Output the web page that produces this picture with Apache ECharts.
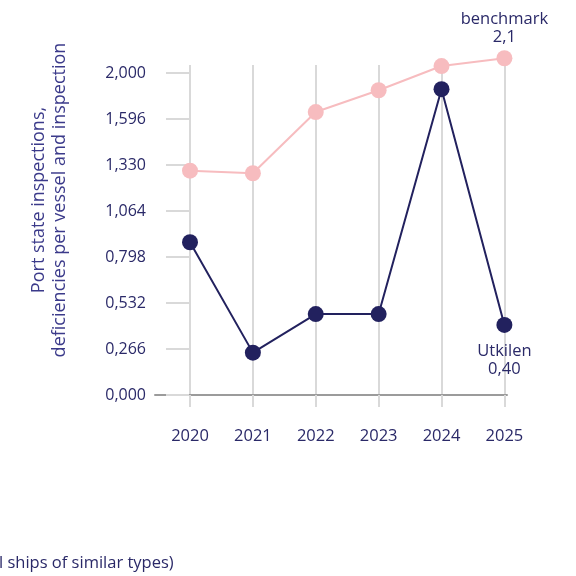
<!DOCTYPE html>
<html><head><meta charset="utf-8">
<script src="https://cdn.jsdelivr.net/npm/echarts@6/dist/echarts.min.js"></script>
<style>html,body{margin:0;padding:0;background:#fff}#c{width:576px;height:576px}</style>
</head><body><div id="c"></div>
<script>
const years = ['2020', '2021', '2022', '2023', '2024', '2025'];
const utkilen = [0.883, 0.245, 0.468, 0.468, 1.768, 0.405];
const benchmark = [1.297, 1.282, 1.636, 1.762, 1.902, 1.947];
const yTickValues = [0, 0.266, 0.532, 0.798, 1.064, 1.330, 1.596, 1.862];
const yTickLabels = ['0,000', '0,266', '0,532', '0,798', '1,064', '1,330', '1,596', '2,000'];
const seriesNames = ['Utkilen', 'benchmark'];
const endValueLabels = ['0,40', '2,1'];
const yAxisTitle = 'Port state inspections,\ndeficiencies per vessel and inspection';
const footnote = 'l ships of similar types)';

const FONT = "'Open Sans', 'Noto Sans', sans-serif";
const NAVY = '#2a2968';
const DARK = '#22215e';
const PINK = '#f7bcbf';
const GRIDC = '#d9d9d9';

function buildData(values, idx, pos, dist) {
  const last = values.length - 1;
  return values.map((v, i) => i === last ? {
    value: v,
    label: {
      show: true, position: pos, distance: dist,
      formatter: seriesNames[idx] + '\n' + endValueLabels[idx],
      color: NAVY, fontSize: 16.5, lineHeight: 18, fontFamily: FONT, align: 'center'
    }
  } : v);
}

const chart = echarts.init(document.getElementById('c'), null, {renderer: 'canvas'});
chart.setOption({
  animation: false,
  backgroundColor: '#ffffff',
  textStyle: {fontFamily: FONT},
  grid: [
    {left: 190, right: 71.6, top: 65, bottom: 181, containLabel: false},
    {left: 155, right: 69, top: 65, bottom: 181, containLabel: false}
  ],
  xAxis: [{
    gridIndex: 0, type: 'category', data: years, boundaryGap: false,
    axisLine: {show: false},
    axisTick: {show: true, length: 12, lineStyle: {color: GRIDC, width: 2}},
    splitLine: {show: true, lineStyle: {color: GRIDC, width: 2}},
    axisLabel: {margin: 33, color: NAVY, fontSize: 16.5, fontFamily: FONT}
  }, {
    gridIndex: 1, type: 'value', min: 0, max: 1,
    axisLine: {show: true, lineStyle: {color: '#9b9b9b', width: 2}},
    axisTick: {show: false}, axisLabel: {show: false}, splitLine: {show: false}
  }],
  yAxis: [{
    gridIndex: 0, type: 'value', min: 0, max: 1.908, offset: 24,
    axisLine: {show: false},
    axisTick: {show: true, inside: true, length: 23, customValues: yTickValues,
      lineStyle: {color: GRIDC, width: 2}},
    axisLabel: {
      customValues: yTickValues, margin: 20, color: NAVY, fontSize: 16, fontFamily: FONT,
      formatter: (v) => {
        const i = yTickValues.findIndex(t => Math.abs(t - v) < 1e-6);
        return i >= 0 ? yTickLabels[i] : '';
      }
    },
    splitLine: {show: false},
    name: yAxisTitle, nameLocation: 'middle', nameGap: 96,
    nameTextStyle: {color: '#3b3a8a', fontSize: 18, lineHeight: 21, fontFamily: FONT,
      padding: [0, 0, 0, 60]}
  }, {
    gridIndex: 1, type: 'value', show: false, min: 0, max: 1
  }],
  series: [{
    name: seriesNames[1], type: 'line', xAxisIndex: 0, yAxisIndex: 0,
    data: buildData(benchmark, 1, 'top', 4), clip: false,
    symbol: 'circle', symbolSize: 16,
    lineStyle: {color: PINK, width: 2}, itemStyle: {color: PINK}, z: 3
  }, {
    name: seriesNames[0], type: 'line', xAxisIndex: 0, yAxisIndex: 0,
    data: buildData(utkilen, 0, 'bottom', 9), clip: false,
    symbol: 'circle', symbolSize: 16,
    lineStyle: {color: DARK, width: 2}, itemStyle: {color: DARK}, z: 4
  }],
  graphic: [{
    type: 'text', left: -1, top: 555,
    style: {text: footnote, fill: NAVY, font: "16.5px 'Open Sans', sans-serif"}
  }]
});
</script>
</body></html>
